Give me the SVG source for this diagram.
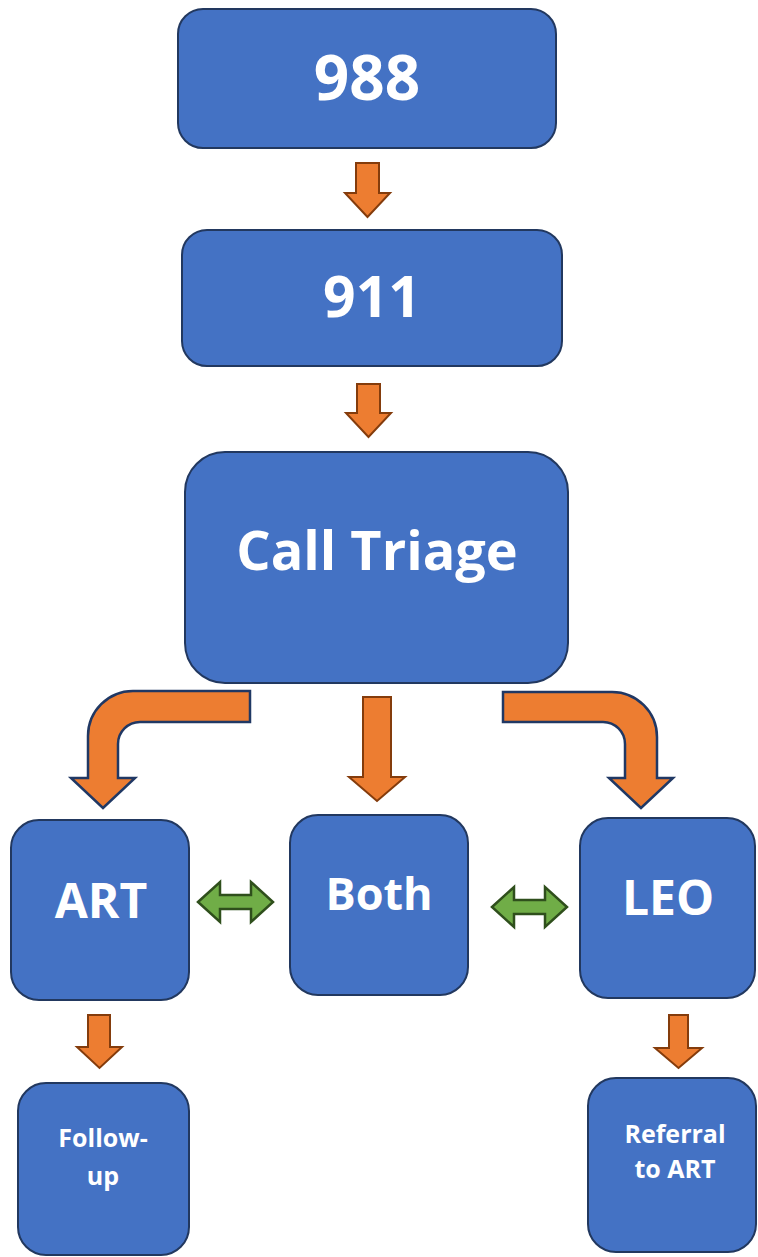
<svg xmlns="http://www.w3.org/2000/svg" width="758" height="1257" viewBox="0 0 758 1257">
<style>
.box{fill:#4472C4;stroke:#22385F;stroke-width:2}
.t{fill:#FFFFFF;font-family:"Open Sans","Liberation Sans",sans-serif;font-weight:700;text-anchor:middle}
.oa{fill:#ED7D31;stroke:#843C0C;stroke-width:2;stroke-linejoin:miter}
.ob{fill:#ED7D31;stroke:#203864;stroke-width:2.5;stroke-linejoin:miter}
.ga{fill:#70AD47;stroke:#2F4F1C;stroke-width:2.5;stroke-linejoin:miter}
</style>
<rect width="758" height="1257" fill="#FFFFFF"/>
<g id="connectors">
<path class="oa" d="M356,163 H379 V193 H390 L367.5,217 L345,193 H356 Z"/>
<path class="oa" d="M357,384 H380 V413 H391 L368.5,437 L346,413 H357 Z"/>
<path class="oa" d="M363,697 H391 V777 H405 L377,801 L349,777 H363 Z"/>
<path class="ob" d="M250,691 H133 A45,45 0 0 0 88,736 V778 H71 L103,808 L135,778 H118 V744 A22,22 0 0 1 140,722 H250 Z"/>
<path class="ob" d="M503,692 H612 A45,45 0 0 1 657,737 V778 H673 L641,808 L609,778 H625 V744 A22,22 0 0 0 603,722 H503 Z"/>
<path class="ga" d="M198,902 L220,882 V895 H251 V882 L273,902 L251,922 V909 H220 V922 Z"/>
<path class="ga" d="M492,907 L514,887 V900 H545 V887 L567,907 L545,927 V914 H514 V927 Z"/>
<path class="oa" d="M88,1015 H110 V1047 H122 L99.5,1068 L77,1047 H88 Z"/>
<path class="oa" d="M669,1015 H688 V1048 H702 L678.5,1068 L655,1048 H669 Z"/>
</g>
<g id="n988"><rect class="box" x="178" y="9" width="378" height="139" rx="25"/><text class="t" x="367" y="100" font-size="62">988</text></g>
<g id="n911"><rect class="box" x="182" y="230" width="380" height="136" rx="25"/><text class="t" x="372" y="317" font-size="57">911</text></g>
<g id="triage"><rect class="box" x="185" y="452" width="383" height="231" rx="40"/><text class="t" x="377" y="570" font-size="54">Call Triage</text></g>
<g id="art"><rect class="box" x="11" y="820" width="178" height="180" rx="28"/><text class="t" x="101" y="918" font-size="48">ART</text></g>
<g id="both"><rect class="box" x="290" y="815" width="178" height="180" rx="28"/><text class="t" x="379" y="910" font-size="45">Both</text></g>
<g id="leo"><rect class="box" x="580" y="818" width="175" height="180" rx="28"/><text class="t" x="668" y="915" font-size="48">LEO</text></g>
<g id="followup"><rect class="box" x="18" y="1083" width="171" height="172" rx="28"/><text class="t" x="103" y="1147" font-size="25">Follow-</text><text class="t" x="103" y="1185" font-size="25">up</text></g>
<g id="referral"><rect class="box" x="588" y="1078" width="168" height="174" rx="28"/><text class="t" x="675" y="1143" font-size="25">Referral</text><text class="t" x="675" y="1178" font-size="25">to ART</text></g>
</svg>
